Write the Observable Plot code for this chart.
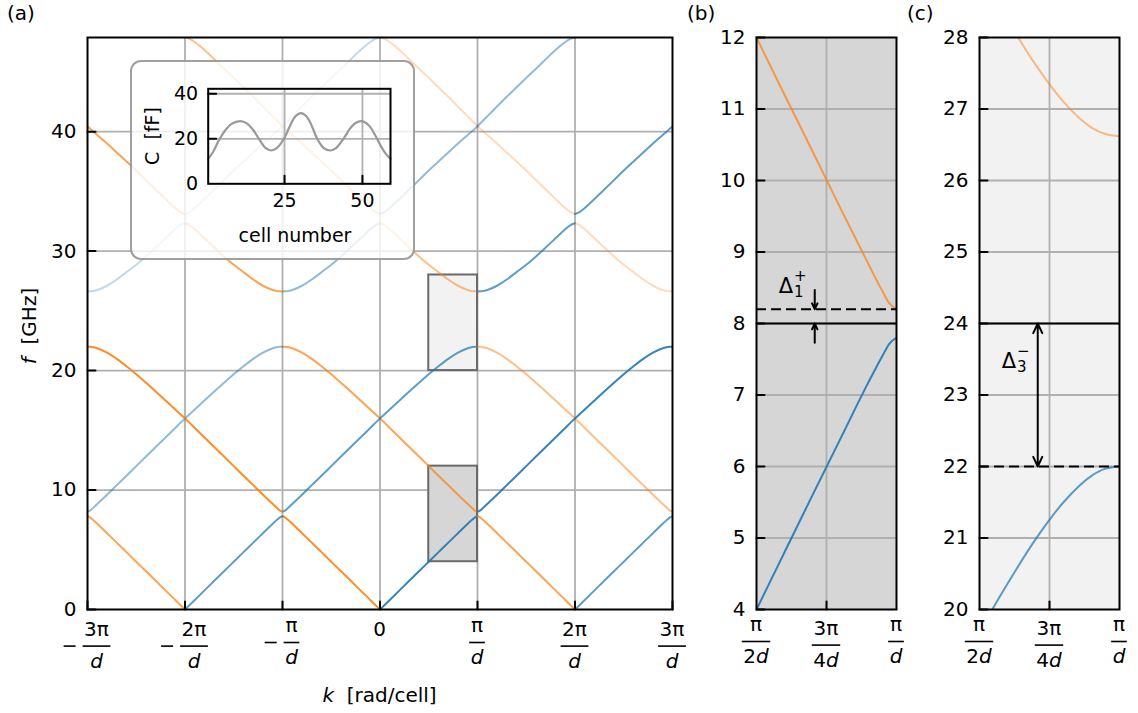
<!DOCTYPE html>
<html>
<head>
<meta charset="utf-8">
<script src="https://cdn.jsdelivr.net/npm/d3@7"></script>
<script src="https://cdn.jsdelivr.net/npm/@observablehq/plot@0.6"></script>
<style>
  body { margin: 0; background: #fff; }
  #fig { position: relative; width: 1138px; height: 713px; font-family: "DejaVu Sans", sans-serif; overflow: hidden; }
  .panel { position: absolute; top: 0; }
  .panel svg { overflow: visible; }
  #inset { position: absolute; left: 130px; top: 60px; width: 281px; height: 196px;
           border: 2px solid rgba(128,128,128,0.75); border-radius: 11px; background: rgba(255,255,255,0.8); }
  #tags { position: absolute; left: 0; top: 0; pointer-events: none; }
</style>
</head>
<body>
<div id="fig">
  <div class="panel" id="pa" style="left:0px"></div>
  <div id="inset"></div>
  <div class="panel" id="pb" style="left:700px"></div>
  <div class="panel" id="pc" style="left:920px"></div>
</div>
<script>
// ---------------- data ----------------
// reduced wavenumber q = |k| folded into [0, π/d], in units of π/d
const q     = [0, 0.05, 0.1, 0.2, 0.3, 0.4, 0.5, 0.6, 0.7, 0.8, 0.9, 0.95, 0.975, 1];
// band frequencies (GHz) at each q
const band1 = [0, 0.4, 0.8, 1.6, 2.4, 3.2, 4.0, 4.8, 5.6, 6.39, 7.18, 7.55, 7.72, 7.8];
const band2 = [16, 15.6, 15.2, 14.4, 13.6, 12.8, 12.0, 11.2, 10.41, 9.61, 8.83, 8.45, 8.28, 8.2];
const band3 = [16.0, 16.37, 16.74, 17.5, 18.25, 18.98, 19.69, 20.36, 20.98, 21.5, 21.87, 21.97, 21.99, 22.0];
const band4 = [32.33, 32.16, 31.83, 31.07, 30.3, 29.55, 28.85, 28.24, 27.62, 27.1, 26.74, 26.65, 26.63, 26.62];
const band5 = [33.11, 33.28, 33.61, 34.37, 35.15, 35.94, 36.74, 37.5, 38.25, 39.0, 39.72, 40.08, 40.27, 40.45];
const band6 = [47.88, 47.76, 47.5, 46.84, 46.06, 45.27, 44.5, 43.71, 42.92, 42.1, 41.28, 40.87, 40.66, 40.45];
const bands = [band1, band2, band3, band4, band5, band6];
// spectral weight of a branch by how many reciprocal vectors (2π/d) it is shifted from the bare line
const replicaWeight = [0.9, 0.72, 0.5, 0.28, 0];
// zones of the extended plot, start of each interval in units of π/d
const zoneStarts = [-3, -2, -1, 0, 1, 2];

const kTicks = [-3, -2, -1, 0, 1, 2, 3];
const kTickLabels = ["−3π/d", "−2π/d", "−π/d", "0", "π/d", "2π/d", "3π/d"];
const fTicks = [0, 10, 20, 30, 40];

// zoomed windows (b) and (c)
const zoomBoxes = [
  {k0: 0.5, k1: 1, f0: 4, f1: 12, shade: "#d6d6d6"},
  {k0: 0.5, k1: 1, f0: 20, f1: 28, shade: "#f2f2f2"}
];
const zoomKTicks = [0.5, 0.75, 1];
const zoomKTickLabels = ["π/2d", "3π/4d", "π/d"];
const zoomFTicksB = [4, 5, 6, 7, 8, 9, 10, 11, 12];
const zoomFTicksC = [20, 21, 22, 23, 24, 25, 26, 27, 28];

// gaps: unperturbed crossing frequency and the nearest band edge
const gaps = [
  {sub: "1", sup: "+", crossing: 8, edge: 8.2},
  {sub: "3", sup: "−", crossing: 24, edge: 22}
];

// inset: capacitance profile along the line
const cellNumber  = [0.5, 2, 4, 6, 8, 10.8, 13, 15, 17, 19, 20.7, 22.5, 24.8, 27, 28.5, 30.2, 32, 33.5, 35.5, 37.5, 39.8, 41.5, 43.9, 46, 47.8, 49.7, 52, 54, 56, 57.5, 59];
const capacitance = [11.1, 14, 19.5, 23.8, 26.6, 27.8, 26.7, 23.8, 19.5, 15.8, 14.8, 15.8, 20, 26.5, 30, 31.4, 30, 26.5, 20, 16, 14.8, 15.8, 20, 24.5, 27, 27.8, 26, 21.8, 16.5, 13.3, 11.1];

// ---------------- unfold bands into the extended zone ----------------
const BLUE = "#1f77b4", ORANGE = "#ff7f0e";
const segments = [];
bands.forEach((f, bi) => {
  const b = bi + 1;
  zoneStarts.forEach(m => {
    const even = Math.abs(m) % 2 === 0;
    const rising = even === (b % 2 === 1);
    const n = rising ? Math.abs(b - 1 - m) / 2 : Math.abs(b + m) / 2;
    const w = replicaWeight[n] ?? 0;
    if (!w) return;
    q.forEach((qq, i) => {
      segments.push({k: even ? m + qq : m + 1 - qq, f: f[i], id: `${b}:${m}`,
                     color: rising ? BLUE : ORANGE, w});
    });
  });
});
segments.sort((a, b) => a.id < b.id ? -1 : a.id > b.id ? 1 : a.k - b.k);

// ---------------- shared styles ----------------
const FONT = '"DejaVu Sans", sans-serif';
const grid = {stroke: "#b0b0b0", strokeWidth: 1.8};
const tickShape = {draw(context, l) { context.moveTo(0, 0); context.lineTo(0, -l); }};
const inTick = {length: 8, anchor: "start", shape: tickShape, stroke: "black", strokeWidth: 2};
const bandLines = (clip) => Plot.line(segments, {
  x: "k", y: "f", z: "id",
  stroke: {value: "color", scale: null},
  strokeOpacity: {value: "w", scale: null},
  strokeWidth: 2, curve: "monotone-x", clip
});
const style = {fontFamily: FONT, fontSize: "20px", background: "transparent", overflow: "visible"};
const intFormat = d => String(d);

// fraction tick labels like  −3π/d  drawn under an x scale
function fractionLabels(svg, scale, values, labels, top) {
  const g = d3.select(svg).append("g").attr("font-family", FONT).attr("font-size", 20).attr("fill", "black");
  values.forEach((v, i) => {
    const x = scale.apply(v);
    let s = labels[i];
    const neg = s.startsWith("−");
    if (neg) s = s.slice(1);
    if (!s.includes("/")) {
      g.append("text").attr("x", x).attr("y", top + 14.6).attr("text-anchor", "middle").text(s);
      return;
    }
    const [num, den] = s.split("/");
    const nb = top + (/[0-9]/.test(num) ? 14.6 : 11);
    const barY = nb + 10.5;
    const db = barY + 21.5;
    const nt = g.append("text").attr("y", nb).attr("text-anchor", "middle").text(num);
    const dt = g.append("text").attr("y", db).attr("text-anchor", "middle");
    for (const ch of den) {
      dt.append("tspan").attr("font-style", ch === "d" ? "italic" : "normal").text(ch);
    }
    const wn = nt.node().getComputedTextLength();
    const wd = dt.node().getComputedTextLength();
    const barW = Math.max(wn, wd) + 3;
    const minusW = 12, gap = 7;
    const total = (neg ? minusW + gap : 0) + barW;
    const left = x - total / 2;
    const barLeft = left + (neg ? minusW + gap : 0);
    const cx = barLeft + barW / 2;
    nt.attr("x", cx); dt.attr("x", cx);
    g.append("line").attr("x1", barLeft).attr("x2", barLeft + barW).attr("y1", barY).attr("y2", barY)
      .attr("stroke", "black").attr("stroke-width", 1.6);
    if (neg) g.append("line").attr("x1", left).attr("x2", left + minusW).attr("y1", barY).attr("y2", barY)
      .attr("stroke", "black").attr("stroke-width", 1.6);
  });
}

// ---------------- panel (a) ----------------
const plotA = Plot.plot({
  width: 700, height: 713, marginLeft: 87, marginRight: 28, marginTop: 37, marginBottom: 104,
  style,
  x: {domain: [-3, 3], axis: null},
  y: {domain: [0, d3.max(band6)], axis: null},
  marks: [
    Plot.ruleX(kTicks.slice(1, -1), grid),
    Plot.ruleY(fTicks.slice(1), grid),
    Plot.rect(zoomBoxes, {x1: "k0", x2: "k1", y1: "f0", y2: "f1", fill: {value: "shade", scale: null},
                          stroke: "#6a6a6a", strokeWidth: 2}),
    bandLines(true),
    Plot.frame({stroke: "black", strokeWidth: 2}),
    Plot.vector(kTicks, {x: d => d, frameAnchor: "bottom", rotate: 0, ...inTick}),
    Plot.vector(fTicks, {y: d => d, frameAnchor: "left", rotate: 90, ...inTick}),
    Plot.axisY(fTicks, {anchor: "left", tickSize: 0, tickPadding: 11, label: null, fontSize: 20, tickFormat: intFormat})
  ]
});
document.getElementById("pa").append(plotA);
fractionLabels(plotA, plotA.scale("x"), kTicks, kTickLabels, 621);
{
  const s = d3.select(plotA);
  const yl = s.append("text").attr("transform", "translate(36,326) rotate(-90)")
    .attr("text-anchor", "middle").attr("font-family", FONT).attr("font-size", 20);
  yl.append("tspan").attr("font-style", "italic").text("f");
  yl.append("tspan").text("  [GHz]");
  const xl = s.append("text").attr("x", 379.5).attr("y", 702)
    .attr("text-anchor", "middle").attr("font-family", FONT).attr("font-size", 20);
  xl.append("tspan").attr("font-style", "italic").text("k");
  xl.append("tspan").text("  [rad/cell]");
}

// ---------------- inset ----------------
const insetData = cellNumber.map((c, i) => ({cell: c, C: capacitance[i]}));
const plotI = Plot.plot({
  width: 281, height: 196, marginLeft: 75.7, marginRight: 23, marginTop: 26.3, marginBottom: 74.7,
  style: {...style, fontSize: "19px"},
  x: {domain: [0.5, 59], axis: null},
  y: {domain: [0, 42.2], axis: null},
  marks: [
    Plot.ruleX([25, 50], grid),
    Plot.ruleY([20, 40], grid),
    Plot.line(insetData, {x: "cell", y: "C", stroke: "#999999", strokeWidth: 2.2, curve: "catmull-rom"}),
    Plot.frame({stroke: "black", strokeWidth: 2}),
    Plot.vector([25, 50], {x: d => d, frameAnchor: "bottom", rotate: 0, ...inTick}),
    Plot.vector([20, 40], {y: d => d, frameAnchor: "left", rotate: 90, ...inTick}),
    Plot.axisY([0, 20, 40], {anchor: "left", tickSize: 0, tickPadding: 10, label: null, fontSize: 19, tickFormat: intFormat}),
    Plot.axisX([25, 50], {anchor: "bottom", tickSize: 0, tickPadding: 10, label: null, fontSize: 19, tickFormat: intFormat})
  ]
});
document.getElementById("inset").append(plotI);
{
  const s = d3.select(plotI);
  s.append("text").attr("transform", "translate(27,74) rotate(-90)").attr("text-anchor", "middle")
    .attr("font-family", FONT).attr("font-size", 19).text("C  [fF]");
  s.append("text").attr("x", 163).attr("y", 180).attr("text-anchor", "middle")
    .attr("font-family", FONT).attr("font-size", 19).text("cell number");
}

// ---------------- panels (b) and (c) ----------------
function zoomPanel(box, fTicksZ, gap, width, marginLeft, marginRight, host) {
  const upward = gap.edge > gap.crossing;
  const kArrow = 0.708, kLabel = 0.605;
  const arrowStyle = {stroke: "black", strokeWidth: 2, headLength: 8, headAngle: 50};
  const arrows = upward
    ? [{y1: gap.edge + 0.27, y2: gap.edge}, {y1: gap.crossing - 0.27, y2: gap.crossing}]
    : [{y1: (gap.crossing + gap.edge) / 2, y2: gap.crossing}, {y1: (gap.crossing + gap.edge) / 2, y2: gap.edge}];
  const labelY = upward ? gap.edge + 0.22 : gap.crossing - 0.62;
  const p = Plot.plot({
    width, height: 713, marginLeft, marginRight, marginTop: 37, marginBottom: 104,
    style,
    x: {domain: [box.k0, box.k1], axis: null},
    y: {domain: [box.f0, box.f1], axis: null},
    marks: [
      Plot.frame({fill: box.shade}),
      Plot.ruleX([0.75], grid),
      Plot.ruleY(fTicksZ.slice(1, -1), grid),
      bandLines(true),
      Plot.ruleY([gap.crossing], {stroke: "black", strokeWidth: 2}),
      Plot.ruleY([gap.edge], {stroke: "black", strokeWidth: 2, strokeDasharray: "10,5"}),
      Plot.arrow(arrows, {x1: () => kArrow, x2: () => kArrow, y1: "y1", y2: "y2", ...arrowStyle}),
      Plot.text([gap], {x: () => kLabel, y: () => labelY, text: () => "Δ", fontSize: 21,
                        textAnchor: "middle", lineAnchor: "bottom"}),
      Plot.text([gap], {x: () => kLabel, y: () => labelY, text: "sub", fontSize: 15,
                        textAnchor: "start", lineAnchor: "bottom", dx: 8, dy: 4}),
      Plot.text([gap], {x: () => kLabel, y: () => labelY, text: "sup", fontSize: 15,
                        textAnchor: "start", lineAnchor: "bottom", dx: 8, dy: -12}),
      Plot.frame({stroke: "black", strokeWidth: 2}),
      Plot.vector([0.75], {x: d => d, frameAnchor: "bottom", rotate: 0, ...inTick}),
      Plot.vector(fTicksZ, {y: d => d, frameAnchor: "left", rotate: 90, ...inTick}),
      Plot.axisY(fTicksZ, {anchor: "left", tickSize: 0, tickPadding: 11, label: null, fontSize: 20, tickFormat: intFormat})
    ]
  });
  document.getElementById(host).append(p);
  fractionLabels(p, p.scale("x"), zoomKTicks, zoomKTickLabels, 620);
  return p;
}
zoomPanel(zoomBoxes[0], zoomFTicksB, gaps[0], 220, 56, 24, "pb");
zoomPanel(zoomBoxes[1], zoomFTicksC, gaps[1], 218, 59, 19, "pc");

// ---------------- panel tags ----------------
const tags = d3.select("#fig").append("svg").attr("id", "tags").attr("width", 1138).attr("height", 713);
[["(a)", 7], ["(b)", 687], ["(c)", 907]].forEach(([t, x]) => {
  tags.append("text").attr("x", x).attr("y", 20).attr("font-family", FONT).attr("font-size", 20).text(t);
});
</script>
</body>
</html>
